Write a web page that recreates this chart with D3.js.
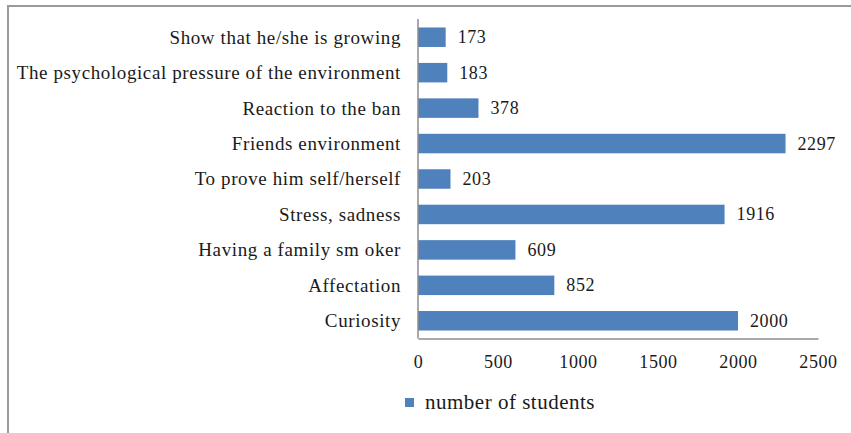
<!DOCTYPE html>
<html>
<head>
<meta charset="utf-8">
<script src="https://cdn.jsdelivr.net/npm/d3@7/dist/d3.min.js"></script>
<style>
  html, body { margin: 0; padding: 0; background: #fff; }
  svg { display: block; }
</style>
</head>
<body>
<svg id="chart" width="851" height="433"></svg>
<script>
const categories = [
  "Show that he/she is growing",
  "The psychological pressure of the environment",
  "Reaction to the ban",
  "Friends environment",
  "To prove him self/herself",
  "Stress, sadness",
  "Having a family sm oker",
  "Affectation",
  "Curiosity"
];
const values = [173, 183, 378, 2297, 203, 1916, 609, 852, 2000];
const tickValues = [0, 500, 1000, 1500, 2000, 2500];
const seriesName = "number of students";

const FONT = "'Liberation Serif', 'Times New Roman', Times, serif";
const TXT = "#1a1a1a";

const svg = d3.select("#chart");
const W = 851, H = 433;

// frame (top and left edges visible)
svg.append("line").attr("x1", 8).attr("x2", W).attr("y1", 6).attr("y2", 6)
  .attr("stroke", "#9a9a9a").attr("stroke-width", 2);
svg.append("line").attr("x1", 8).attr("x2", 8).attr("y1", 5).attr("y2", H)
  .attr("stroke", "#9a9a9a").attr("stroke-width", 2);

const x = d3.scaleLinear().domain([0, 2500]).range([418, 818]);
const y = d3.scaleBand().domain(categories).range([19.5, 338.5])
  .paddingInner(0.45).paddingOuter(0.225);

// bars
svg.append("g").selectAll("rect").data(values).join("rect")
  .attr("x", x(0))
  .attr("y", (d, i) => y(categories[i]))
  .attr("width", d => x(d) - x(0))
  .attr("height", y.bandwidth())
  .attr("fill", "#4f81bd");

// value labels
svg.append("g").selectAll("text").data(values).join("text")
  .attr("x", d => x(d) + 12)
  .attr("y", (d, i) => y(categories[i]) + y.bandwidth() / 2 + 6)
  .style("font-family", FONT).style("font-size", "18px")
  .style("letter-spacing", "0.6px").style("fill", TXT)
  .text(d => d);

// category axis
const yAxis = d3.axisLeft(y).tickSize(0).tickPadding(17);
const gy = svg.append("g").attr("transform", `translate(${x(0)},0)`).call(yAxis);
gy.select(".domain").attr("stroke", "#8c8c8c").attr("stroke-width", 1.5)
  .attr("d", `M0,19V338.5`);
gy.selectAll("text").style("font-family", FONT).style("font-size", "19px")
  .style("letter-spacing", "0.6px").style("fill", TXT).attr("dy", "0.34em");

// value axis
const xAxis = d3.axisBottom(x).tickValues(tickValues).tickSize(0).tickPadding(17)
  .tickFormat(d3.format("d"));
const gx = svg.append("g").attr("transform", `translate(0,338.5)`).call(xAxis);
gx.select(".domain").attr("stroke", "#8c8c8c").attr("stroke-width", 1.5);
gx.selectAll("text").style("font-family", FONT).style("font-size", "18px")
  .style("letter-spacing", "0.6px").style("fill", TXT);

// legend
const lg = svg.append("g").attr("transform", "translate(405,398)");
lg.append("rect").attr("width", 9).attr("height", 9).attr("fill", "#4f81bd");
lg.append("text").attr("x", 20).attr("y", 10.5)
  .style("font-family", FONT).style("font-size", "21px")
  .style("letter-spacing", "0.5px").style("fill", TXT).text(seriesName);
</script>
</body>
</html>
